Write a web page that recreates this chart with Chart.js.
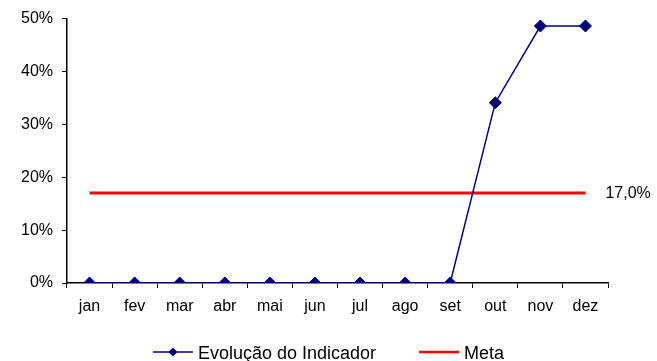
<!DOCTYPE html>
<html>
<head>
<meta charset="utf-8">
<script src="https://cdn.jsdelivr.net/npm/chart.js@4/dist/chart.umd.min.js"></script>
<style>
  html, body { margin: 0; padding: 0; background: #fff; }
  #wrap { width: 657px; height: 361px; }
</style>
</head>
<body>
<div id="wrap"><canvas id="chart" width="657" height="361"></canvas></div>
<script>
const meses = ['jan', 'fev', 'mar', 'abr', 'mai', 'jun', 'jul', 'ago', 'set', 'out', 'nov', 'dez'];
const evolucao = [0, 0, 0, 0, 0, 0, 0, 0, 0, 0.341, 0.486, 0.486];
const meta = [0.17, 0.17, 0.17, 0.17, 0.17, 0.17, 0.17, 0.17, 0.17, 0.17, 0.17, 0.17];
const metaLabel = '17,0%';

const fonte = '"Liberation Sans", Arial, sans-serif';

// label at the end of the Meta line
const metaTexto = {
  id: 'metaTexto',
  afterDatasetsDraw(chart) {
    const pts = chart.getDatasetMeta(1).data;
    const p = pts[pts.length - 1];
    const ctx = chart.ctx;
    ctx.save();
    ctx.font = '16px ' + fonte;
    ctx.fillStyle = '#000';
    ctx.textBaseline = 'middle';
    ctx.fillText(metaLabel, p.x + 20, p.y);
    ctx.restore();
  }
};

// legend drawn under the axis, like the spreadsheet one
const legenda = {
  id: 'legenda',
  afterDraw(chart) {
    const ctx = chart.ctx;
    const ds = chart.data.datasets;
    ctx.save();
    ctx.font = '18px ' + fonte;
    const amostra = 40, gapTxt = 5, gapItem = 43;
    const larguras = ds.map(d => ctx.measureText(d.label).width);
    let total = 0;
    larguras.forEach((w, i) => { total += amostra + gapTxt + w + (i ? gapItem : 0); });
    let x = (chart.width - total) / 2;
    const y = 352;
    ds.forEach((d, i) => {
      ctx.strokeStyle = d.borderColor;
      ctx.lineWidth = i === 0 ? 1.5 : 2.5;
      ctx.beginPath();
      ctx.moveTo(x, y);
      ctx.lineTo(x + amostra, y);
      ctx.stroke();
      if (d.pointRadius > 0) {
        ctx.fillStyle = d.pointBackgroundColor;
        ctx.beginPath();
        ctx.moveTo(x + amostra / 2, y - 4.5);
        ctx.lineTo(x + amostra / 2 + 4.5, y);
        ctx.lineTo(x + amostra / 2, y + 4.5);
        ctx.lineTo(x + amostra / 2 - 4.5, y);
        ctx.closePath();
        ctx.fill();
      }
      ctx.fillStyle = '#000';
      ctx.textBaseline = 'middle';
      ctx.fillText(d.label, x + amostra + gapTxt, y + 2);
      x += amostra + gapTxt + larguras[i] + gapItem;
    });
    ctx.restore();
  }
};

new Chart(document.getElementById('chart'), {
  type: 'line',
  data: {
    labels: meses,
    datasets: [
      {
        label: 'Evolução do Indicador',
        data: evolucao,
        borderColor: '#000080',
        borderWidth: 1.5,
        pointStyle: 'rectRot',
        pointRadius: 6,
        pointBackgroundColor: '#000080',
        pointBorderColor: '#000080',
        pointBorderWidth: 1,
        tension: 0
      },
      {
        label: 'Meta',
        data: meta,
        borderColor: '#ff0000',
        borderWidth: 3,
        pointRadius: 0,
        tension: 0
      }
    ]
  },
  options: {
    responsive: false,
    animation: false,
    layout: { padding: { top: 16, right: 49, bottom: 38, left: 0 } },
    scales: {
      x: {
        offset: true,
        grid: { display: true, offset: true, drawOnChartArea: false, drawTicks: true, tickLength: 5, color: '#000', lineWidth: 1 },
        border: { display: true, color: '#000', width: 1.5 },
        ticks: { color: '#000', font: { family: fonte, size: 16 }, padding: 9, maxRotation: 0, autoSkip: false },
        afterFit(s) { s.height = 40; }
      },
      y: {
        min: 0,
        max: 0.5,
        grid: { display: true, drawOnChartArea: false, drawTicks: true, tickLength: 5, color: '#000', lineWidth: 1 },
        border: { display: true, color: '#000', width: 1.5 },
        ticks: {
          stepSize: 0.1,
          color: '#000',
          font: { family: fonte, size: 16 },
          padding: 9,
          callback: v => Math.round(v * 100) + '%'
        },
        afterFit(s) { s.width = 67; }
      }
    },
    plugins: {
      legend: { display: false },
      tooltip: { enabled: false }
    }
  },
  plugins: [metaTexto, legenda]
});
</script>
</body>
</html>
